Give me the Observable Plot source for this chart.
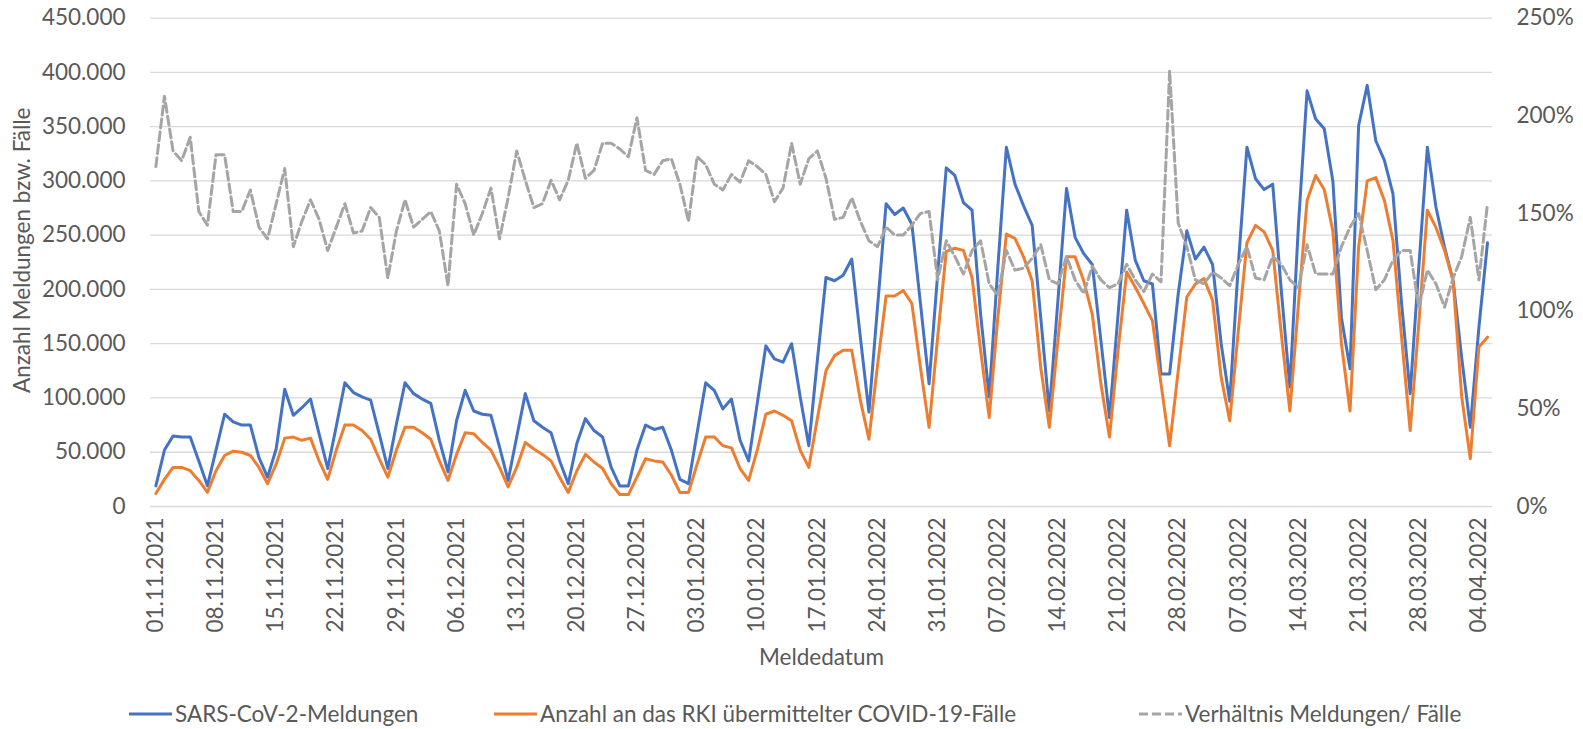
<!DOCTYPE html>
<html><head><meta charset="utf-8">
<script src="https://cdn.jsdelivr.net/npm/d3@7"></script>
<script src="https://cdn.jsdelivr.net/npm/@observablehq/plot@0.6"></script>
<style>
body{margin:0;background:#fff;font-family:Lato,"Open Sans",sans-serif;}
#chart svg{display:block;}
#legend{position:relative;height:37px;width:1583px;font-size:22.5px;color:#595959;font-family:Lato,sans-serif;}
.item{position:absolute;top:3px;height:37px;display:flex;align-items:center;white-space:nowrap;}
.item svg{margin-right:3px;}
</style></head><body>
<div id="chart"></div>
<div id="legend"></div>
<script>
// Daily values from 01.11.2021 (values in thousands for the two count series, percent for the ratio)
const meldungen = [19,52,65,64,64,42,19,52,85,78,75,75,45,27,53,108,84,91,99,67,35,74,114,105,101,98,67,35,76,114,104,99,95,61,32,79,107,88,85,84,55,24,64,104,79,73,68,42,21,58,81,70,64,36,19,19,52,75,71,73,52,25,21,68,114,107,90,99,61,42,95,148,136,133,150,101,56,135,211,208,213,228,156,87,184,279,269,275,260,187,113,214,312,305,280,273,177,101,220,331,297,277,259,174,88,190,293,248,233,223,153,82,177,273,227,208,205,122,122,196,254,228,239,223,150,97,223,331,302,292,297,199,110,260,383,357,348,300,174,127,351,388,337,319,288,187,104,220,331,276,239,208,137,73,165,243];
const faelle = [12,25,36,36,33,24,13,33,47,51,50,47,36,21,39,63,64,61,63,42,25,52,75,75,70,62,44,27,52,73,73,68,62,42,24,48,68,67,59,52,36,18,36,59,53,48,42,27,13,33,48,41,35,21,11,11,27,44,42,41,29,13,13,39,64,64,56,54,35,24,52,85,88,84,79,52,36,81,125,139,144,144,98,62,130,194,194,199,187,128,73,156,235,238,236,211,144,82,174,251,247,230,208,128,73,153,230,230,208,177,113,64,144,216,202,187,171,113,56,125,193,205,210,190,119,79,162,243,259,253,236,159,88,187,282,305,292,254,150,88,239,300,303,282,245,156,70,168,273,257,236,208,101,44,147,156];
const verhaeltnis = [174,210,182,177,189,151,144,180,180,151,151,162,143,137,155,173,133,146,157,147,131,143,155,140,141,153,148,117,141,157,143,147,151,141,113,165,155,139,150,163,137,158,182,167,153,155,167,157,167,186,168,172,186,186,183,179,199,172,170,177,178,165,146,179,175,165,162,170,166,177,174,170,156,163,186,165,178,182,168,147,148,158,146,136,133,143,139,139,144,150,151,116,136,128,119,131,136,114,108,131,121,122,127,134,116,114,128,116,109,123,116,112,114,124,116,110,119,115,223,145,133,116,114,120,117,113,124,133,117,116,128,124,116,112,134,119,119,119,133,143,150,131,111,116,126,131,131,102,121,114,102,117,128,148,116,155];
const xTickLabels = ["01.11.2021","08.11.2021","15.11.2021","22.11.2021","29.11.2021","06.12.2021","13.12.2021","20.12.2021","27.12.2021","03.01.2022","10.01.2022","17.01.2022","24.01.2022","31.01.2022","07.02.2022","14.02.2022","21.02.2022","28.02.2022","07.03.2022","14.03.2022","21.03.2022","28.03.2022","04.04.2022"];
const yTicks = [0,50000,100000,150000,200000,250000,300000,350000,400000,450000];
const pctTicks = [0,50,100,150,200,250];
const seriesNames = ["SARS-CoV-2-Meldungen","Anzahl an das RKI übermittelter COVID-19-Fälle","Verhältnis Meldungen/ Fälle"];
const seriesColors = ["#4472C4","#ED7D31","#A5A5A5"];
const yTitle = "Anzahl Meldungen bzw. Fälle";
const xTitle = "Meldedatum";

const start = new Date(Date.UTC(2021,10,1));
const data = meldungen.map((m,i)=>({
  date: d3.utcDay.offset(start,i),
  meldungen: m*1000,
  faelle: faelle[i]*1000,
  ratio: verhaeltnis[i]
}));
const pctToY = 450000/250;
const tickDates = xTickLabels.map(s=>{const [dd,mm,yy]=s.split(".");return new Date(Date.UTC(+yy,+mm-1,+dd));});
const fmt = d3.formatLocale({decimal:",",thousands:".",grouping:[3],currency:["","€"]}).format(",d");
const dfmt = d3.utcFormat("%d.%m.%Y");

const chart = Plot.plot({
  width:1583, height:692,
  marginLeft:150, marginRight:91, marginTop:17.6, marginBottom:186,
  style:{fontFamily:"Lato, sans-serif", fontSize:"22.5px", color:"#595959", background:"#fff", overflow:"visible"},
  x:{type:"utc", domain:[d3.utcHour.offset(start,-14.3), d3.utcHour.offset(start,155.6*24)]},
  y:{domain:[0,450000]},
  marks:[
    Plot.gridY(yTicks,{stroke:"#D9D9D9",strokeOpacity:1,strokeWidth:1.3}),
    Plot.axisY(yTicks,{anchor:"left",tickSize:0,tickPadding:25,tickFormat:fmt,label:null,fill:"#595959"}),
    Plot.axisY(pctTicks.map(p=>p*pctToY),{anchor:"right",tickSize:0,tickPadding:24,tickFormat:v=>Math.round(v/pctToY)+"%",label:null,fill:"#595959"}),
    Plot.axisX(tickDates,{tickSize:0,tickRotate:-90,tickPadding:11,tickFormat:dfmt,label:null,fill:"#595959"}),
    Plot.line(data,{x:"date",y:"meldungen",stroke:seriesColors[0],strokeWidth:3}),
    Plot.line(data,{x:"date",y:"faelle",stroke:seriesColors[1],strokeWidth:3}),
    Plot.line(data,{x:"date",y:d=>d.ratio*pctToY,stroke:seriesColors[2],strokeWidth:3,strokeDasharray:"9,4"}),
    Plot.text([yTitle],{frameAnchor:"left",textAnchor:"middle",lineAnchor:"middle",rotate:-90,dx:-128,dy:-12,fill:"#595959"}),
    Plot.text([xTitle],{frameAnchor:"bottom",lineAnchor:"middle",dy:151,fill:"#595959"})
  ]
});
document.getElementById("chart").appendChild(chart);

const legendLefts = [129,494,1139];
const legend = document.getElementById("legend");
seriesNames.forEach((name,i)=>{
  const it = document.createElement("div");
  it.className="item";
  it.style.left = legendLefts[i]+"px";
  const dash = i===2 ? ' stroke-dasharray="9,4"' : '';
  it.innerHTML = `<svg width="43" height="6"><line x1="0" y1="3" x2="43" y2="3" stroke="${seriesColors[i]}" stroke-width="3"${dash}/></svg><span>${name}</span>`;
  legend.appendChild(it);
});
</script></body></html>
